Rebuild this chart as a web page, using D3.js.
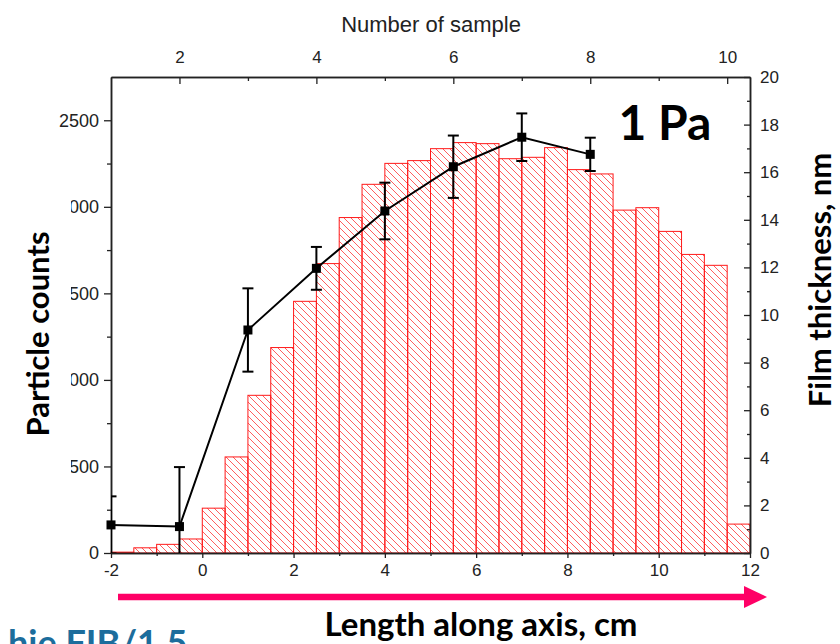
<!DOCTYPE html>
<html>
<head>
<meta charset="utf-8">
<script src="https://cdn.jsdelivr.net/npm/d3@7"></script>
<style>
  body { margin: 0; background: #fff; }
  svg { display: block; }
</style>
</head>
<body>
<div id="chart"></div>
<script>
// histogram bins along the axis (left edge of each 0.5 cm bin)
const binLeft = [-2, -1.5, -1, -0.5, 0, 0.5, 1, 1.5, 2, 2.5, 3, 3.5, 4, 4.5,
                 5, 5.5, 6, 6.5, 7, 7.5, 8, 8.5, 9, 9.5, 10, 10.5, 11, 11.5];
const binWidth = 0.5;
const counts = [5, 30, 50, 81, 259, 555, 911, 1187, 1454, 1672, 1938, 2130, 2251, 2267,
                2336, 2371, 2365, 2278, 2286, 2342, 2215, 2190, 1981, 1995, 1858, 1725, 1662, 167];

// film thickness per sample
const samplePos = [-2, -0.5, 1, 2.5, 4, 5.5, 7, 8.5];
const thickness = [1.18, 1.11, 9.37, 11.96, 14.37, 16.23, 17.47, 16.75];
const thickErr = [1.2, 2.5, 1.75, 0.9, 1.19, 1.31, 1.0, 0.7];

const leftTicks = [0, 500, 1000, 1500, 2000, 2500];
const rightTicks = [0, 2, 4, 6, 8, 10, 12, 14, 16, 18, 20];
const bottomTicks = [-2, 0, 2, 4, 6, 8, 10, 12];
const topTicks = [2, 4, 6, 8, 10];

const width = 840, height = 644;
const plot = { left: 111, right: 750, top: 77, bottom: 553 };

const svg = d3.select('#chart').append('svg')
  .attr('width', width)
  .attr('height', height);

const x = d3.scaleLinear().domain([-2, 12]).range([plot.left, plot.right]);
const yL = d3.scaleLinear().domain([0, 2750]).range([plot.bottom, plot.top]);
const yR = d3.scaleLinear().domain([0, 20]).range([plot.bottom, plot.top]);
// sample n sits at -2 + 1.5*(n-1)
const xTop = d3.scaleLinear().domain([1, 1 + 14 / 1.5]).range([plot.left, plot.right]);

const fmt = d => String(d); // plain hyphen minus, no thousands comma

const defs = svg.append('defs');
const hatch = defs.append('pattern')
  .attr('id', 'hatch')
  .attr('width', 7)
  .attr('height', 7)
  .attr('patternUnits', 'userSpaceOnUse');
hatch.append('path')
  .attr('d', 'M-1,-1 L8,8 M-1,6 L1,8 M6,-1 L8,1')
  .attr('stroke', '#ff4d4d')
  .attr('stroke-width', 0.9);

defs.append('clipPath').attr('id', 'plot-clip')
  .append('rect')
  .attr('x', plot.left).attr('y', plot.top)
  .attr('width', plot.right - plot.left)
  .attr('height', plot.bottom - plot.top);

// bars
svg.append('g').selectAll('rect')
  .data(binLeft)
  .join('rect')
  .attr('x', d => x(d))
  .attr('y', (d, i) => yL(counts[i]))
  .attr('width', d => x(d + binWidth) - x(d))
  .attr('height', (d, i) => yL(0) - yL(counts[i]))
  .attr('fill', 'url(#hatch)')
  .attr('stroke', '#ff1a1a')
  .attr('stroke-width', 1);

// axes
const axisFont = g => {
  g.selectAll('text')
    .style('font-family', '"Liberation Sans", Arial, sans-serif')
    .style('font-size', '17px')
    .attr('fill', '#222');
  g.selectAll('line').attr('stroke', '#222').attr('stroke-width', 1.3);
  g.select('.domain').attr('stroke', '#222').attr('stroke-width', 1.5);
};

// left
svg.append('g')
  .attr('transform', `translate(${plot.left},0)`)
  .call(d3.axisLeft(yL).tickValues(leftTicks).tickFormat(fmt).tickSize(7).tickSizeOuter(0).tickPadding(5))
  .call(axisFont)
  .call(g => g.selectAll('text').style('font-size', '18px'));
svg.append('g')
  .attr('transform', `translate(${plot.left},0)`)
  .call(d3.axisLeft(yL).tickValues(d3.range(250, 2500, 500)).tickSize(4).tickSizeOuter(0).tickFormat(''))
  .call(axisFont);

// bottom
svg.append('g')
  .attr('transform', `translate(0,${plot.bottom})`)
  .call(d3.axisBottom(x).tickValues(bottomTicks).tickFormat(fmt).tickSize(5).tickSizeOuter(0).tickPadding(6))
  .call(axisFont);
svg.append('g')
  .attr('transform', `translate(0,${plot.bottom})`)
  .call(d3.axisBottom(x).tickValues(d3.range(-1, 12, 2)).tickSize(3).tickSizeOuter(0).tickFormat(''))
  .call(axisFont);

// right (ticks inward)
svg.append('g')
  .attr('transform', `translate(${plot.right},0)`)
  .call(d3.axisRight(yR).tickValues(rightTicks).tickFormat(fmt).tickSize(-6).tickSizeOuter(0).tickPadding(10))
  .call(axisFont);
svg.append('g')
  .attr('transform', `translate(${plot.right},0)`)
  .call(d3.axisRight(yR).tickValues(d3.range(1, 20, 2)).tickSize(-3).tickSizeOuter(0).tickFormat(''))
  .call(axisFont);

// top (ticks inward)
svg.append('g')
  .attr('transform', `translate(0,${plot.top})`)
  .call(d3.axisTop(xTop).tickValues(topTicks).tickFormat(fmt).tickSize(-7).tickSizeOuter(0).tickPadding(14))
  .call(axisFont);
svg.append('g')
  .attr('transform', `translate(0,${plot.top})`)
  .call(d3.axisTop(xTop).tickValues([3, 5, 7, 9]).tickSize(-4).tickSizeOuter(0).tickFormat(''))
  .call(axisFont);

svg.append('text')
  .attr('x', 431)
  .attr('y', 32)
  .attr('text-anchor', 'middle')
  .style('font-family', '"Liberation Sans", Arial, sans-serif')
  .style('font-size', '22px')
  .attr('fill', '#222')
  .text('Number of sample');

// thickness line with error bars
const pts = samplePos.map((p, i) => ({ p, t: thickness[i], e: thickErr[i] }));
const lineG = svg.append('g').attr('clip-path', 'url(#plot-clip)');

lineG.append('path')
  .datum(pts)
  .attr('fill', 'none')
  .attr('stroke', '#000')
  .attr('stroke-width', 2)
  .attr('d', d3.line().x(d => x(d.p)).y(d => yR(d.t)));

const err = lineG.selectAll('g.err').data(pts).join('g').attr('class', 'err');
err.append('line')
  .attr('x1', d => x(d.p)).attr('x2', d => x(d.p))
  .attr('y1', d => yR(d.t + d.e)).attr('y2', d => yR(d.t - d.e))
  .attr('stroke', '#000').attr('stroke-width', 2);
err.append('line')
  .attr('x1', d => x(d.p) - 5.5).attr('x2', d => x(d.p) + 5.5)
  .attr('y1', d => yR(d.t + d.e)).attr('y2', d => yR(d.t + d.e))
  .attr('stroke', '#000').attr('stroke-width', 2);
err.append('line')
  .attr('x1', d => x(d.p) - 5.5).attr('x2', d => x(d.p) + 5.5)
  .attr('y1', d => yR(d.t - d.e)).attr('y2', d => yR(d.t - d.e))
  .attr('stroke', '#000').attr('stroke-width', 2);

svg.append('g').selectAll('rect')
  .data(pts)
  .join('rect')
  .attr('x', d => x(d.p) - 4.5)
  .attr('y', d => yR(d.t) - 4.5)
  .attr('width', 9)
  .attr('height', 9)
  .attr('fill', '#000');

// bold labels
const bold = sel => sel
  .style('font-family', 'Lato, "Open Sans", sans-serif')
  .style('font-weight', '700')
  .attr('fill', '#000');

svg.append('text')
  .attr('x', 665).attr('y', 140)
  .attr('text-anchor', 'middle')
  .style('font-size', '48px')
  .call(bold)
  .text('1 Pa');

// white box hiding the start of the left tick labels
svg.append('rect')
  .attr('x', 0).attr('y', 196)
  .attr('width', 71).attr('height', 282)
  .attr('fill', '#fff');

svg.append('text')
  .attr('transform', 'translate(49,334) rotate(-90)')
  .attr('text-anchor', 'middle')
  .style('font-size', '31px')
  .call(bold)
  .text('Particle counts');

svg.append('text')
  .attr('transform', 'translate(831,280) rotate(-90)')
  .attr('text-anchor', 'middle')
  .style('font-size', '31px')
  .call(bold)
  .text('Film thickness, nm');

// arrow along the axis
svg.append('line')
  .attr('x1', 118).attr('x2', 748)
  .attr('y1', 597).attr('y2', 597)
  .attr('stroke', '#ff0066')
  .attr('stroke-width', 6.5);
svg.append('path')
  .attr('d', 'M744,586 L767,597 L744,608 Z')
  .attr('fill', '#ff0066');

svg.append('text')
  .attr('x', 481).attr('y', 636)
  .attr('text-anchor', 'middle')
  .style('font-size', '33px')
  .call(bold)
  .text('Length along axis, cm');

// partly visible caption at the lower-left edge
svg.append('text')
  .attr('x', 8).attr('y', 656)
  .style('font-size', '36px')
  .call(bold)
  .attr('fill', '#1c6d9c')
  .text('hie FIB/1.5');
</script>
</body>
</html>
